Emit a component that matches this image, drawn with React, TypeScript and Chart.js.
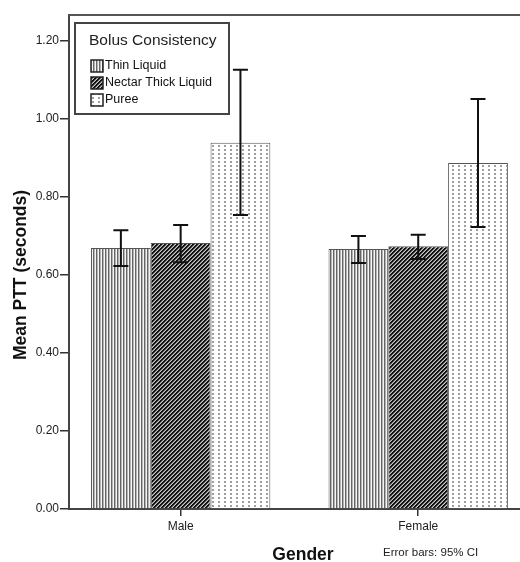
import React, { useEffect, useRef } from 'react';
import { Chart, registerables } from 'chart.js';

Chart.register(...registerables);

// ---------- data ----------
const categories = ['Male', 'Female'];
const seriesNames = ['Thin Liquid', 'Nectar Thick Liquid', 'Puree'];
const thinMeans = [0.669, 0.667];
const nectarMeans = [0.682, 0.674];
const pureeMeans = [0.939, 0.887];
const thinLow = [0.623, 0.631];
const thinHigh = [0.715, 0.700];
const nectarLow = [0.633, 0.641];
const nectarHigh = [0.728, 0.703];
const pureeLow = [0.754, 0.723];
const pureeHigh = [1.126, 1.051];
const yTicks = [0, 0.2, 0.4, 0.6, 0.8, 1.0, 1.2];
const yTitle = 'Mean PTT (seconds)';
const xTitle = 'Gender';
const legendTitle = 'Bolus Consistency';
const footNote = 'Error bars: 95% CI';

const FONT = "'Liberation Sans', Arial, sans-serif";

function makePattern(w: number, h: number, draw: (g: CanvasRenderingContext2D) => void): CanvasPattern {
  const c = document.createElement('canvas');
  c.width = w;
  c.height = h;
  const g = c.getContext('2d') as CanvasRenderingContext2D;
  draw(g);
  return g.createPattern(c, 'repeat') as CanvasPattern;
}

function buildPatterns() {
  const thin = makePattern(3, 1, (g) => {
    const cols = ['#666666', '#b4b4b4', '#f6f6f6'];
    cols.forEach((c, i) => { g.fillStyle = c; g.fillRect(i, 0, 1, 1); });
  });
  const nectar = makePattern(4, 4, (g) => {
    for (let x = 0; x < 4; x++) {
      for (let y = 0; y < 4; y++) {
        const k = (x + y) % 4;
        g.fillStyle = k === 0 || k === 1 ? '#111111' : k === 2 ? '#777777' : '#c8c8c8';
        g.fillRect(x, y, 1, 1);
      }
    }
  });
  const puree = makePattern(6, 4, (g) => {
    g.fillStyle = '#ffffff';
    g.fillRect(0, 0, 6, 4);
    g.fillStyle = '#9e9e9e';
    g.fillRect(2, 1, 2, 2);
  });
  return [thin, nectar, puree];
}

export default function App() {
  const ref = useRef<HTMLCanvasElement | null>(null);

  useEffect(() => {
    const canvas = ref.current;
    if (!canvas) return;
    const patterns = buildPatterns();
    const means = [thinMeans, nectarMeans, pureeMeans];
    const lows = [thinLow, nectarLow, pureeLow];
    const highs = [thinHigh, nectarHigh, pureeHigh];

    const errorBars = {
      id: 'errorBars',
      afterDatasetsDraw(chart: any) {
        const ctx = chart.ctx;
        const y = chart.scales.y;
        chart.data.datasets.forEach((_ds: any, i: number) => {
          const meta = chart.getDatasetMeta(i);
          meta.data.forEach((bar: any, j: number) => {
            const lo = y.getPixelForValue(lows[i][j]);
            const hi = y.getPixelForValue(highs[i][j]);
            const x = bar.x;
            ctx.save();
            ctx.strokeStyle = '#111';
            ctx.lineWidth = 2;
            ctx.beginPath();
            ctx.moveTo(x, hi);
            ctx.lineTo(x, lo);
            ctx.moveTo(x - 7.5, hi);
            ctx.lineTo(x + 7.5, hi);
            ctx.moveTo(x - 7.5, lo);
            ctx.lineTo(x + 7.5, lo);
            ctx.stroke();
            ctx.restore();
          });
        });
      },
    };

    const decorations = {
      id: 'decorations',
      afterDraw(chart: any) {
        const ctx = chart.ctx;
        const a = chart.chartArea;
        ctx.save();
        // frame top/right
        ctx.strokeStyle = '#555';
        ctx.lineWidth = 2;
        ctx.beginPath();
        ctx.moveTo(a.left, a.top);
        ctx.lineTo(a.right, a.top);
        ctx.lineTo(a.right, a.bottom);
        ctx.stroke();

        // legend box
        const lx = 75, ly = 23, lw = 154, lh = 91;
        ctx.fillStyle = '#fff';
        ctx.fillRect(lx, ly, lw, lh);
        ctx.strokeStyle = '#444';
        ctx.lineWidth = 2;
        ctx.strokeRect(lx, ly, lw, lh);
        ctx.fillStyle = '#222';
        ctx.textBaseline = 'middle';
        ctx.textAlign = 'left';
        ctx.font = `15.5px ${FONT}`;
        ctx.fillText(legendTitle, 89, 41);
        ctx.font = `12.5px ${FONT}`;
        seriesNames.forEach((name, i) => {
          const cy = 66 + i * 17;
          ctx.fillStyle = patterns[i];
          ctx.fillRect(91, cy - 6, 12, 12);
          ctx.strokeStyle = '#222';
          ctx.lineWidth = 1.5;
          ctx.strokeRect(91, cy - 6, 12, 12);
          ctx.fillStyle = '#111';
          ctx.fillText(name, 105, cy);
        });

        // y title
        ctx.save();
        ctx.translate(21, 275);
        ctx.rotate(-Math.PI / 2);
        ctx.textAlign = 'center';
        ctx.textBaseline = 'middle';
        ctx.font = `bold 17.5px ${FONT}`;
        ctx.fillStyle = '#111';
        ctx.fillText(yTitle, 0, 0);
        ctx.restore();

        // foot note
        ctx.font = `11.5px ${FONT}`;
        ctx.fillStyle = '#222';
        ctx.textAlign = 'left';
        ctx.textBaseline = 'middle';
        ctx.fillText(footNote, 383, 552.5);
        ctx.restore();
      },
    };

    const chart = new Chart(canvas, {
      type: 'bar',
      data: {
        datasets: seriesNames.map((name, i) => ({
          label: name,
          data: categories.map((_c, j) => ({ x: j + 1, y: means[i][j] })),
          backgroundColor: patterns[i],
          borderColor: '#555',
          borderWidth: 1,
          categoryPercentage: 0.755,
          barPercentage: 1,
        })),
      },
      options: {
        responsive: false,
        animation: false,
        devicePixelRatio: 1,
        layout: { padding: { left: 0, right: 8, top: 15, bottom: 0 } },
        plugins: {
          legend: { display: false },
          tooltip: { enabled: false },
        },
        scales: {
          x: {
            type: 'linear',
            min: 0.53,
            max: 2.5,
            offset: false,
            afterBuildTicks: (s: any) => {
              s.ticks = categories.map((_c, j) => ({ value: j + 1 }));
            },
            afterFit: (s: any) => { s.height = 53; },
            ticks: {
              callback: (v: any) => categories[Math.round(Number(v)) - 1] ?? '',
              font: { family: FONT, size: 12 },
              color: '#222',
              padding: 3,
              maxRotation: 0,
              autoSkip: false,
            },
            grid: {
              display: true,
              drawOnChartArea: false,
              drawTicks: true,
              tickLength: 7,
              color: '#333',
              lineWidth: 1.5,
              offset: false,
            },
            border: { display: true, color: '#444', width: 2 },
            title: {
              display: true,
              text: xTitle,
              font: { family: FONT, size: 17.5, weight: 'bold' },
              color: '#111',
              padding: { top: 0, bottom: -4 },
            },
          },
          y: {
            type: 'linear',
            min: 0,
            max: 1.2667,
            afterBuildTicks: (s: any) => {
              s.ticks = yTicks.map((v) => ({ value: v }));
            },
            afterFit: (s: any) => { s.width = 69; },
            ticks: {
              callback: (v: any) => Number(v).toFixed(2),
              font: { family: FONT, size: 12 },
              color: '#222',
              padding: 1,
            },
            grid: {
              display: true,
              drawOnChartArea: false,
              drawTicks: true,
              tickLength: 9,
              color: '#333',
              lineWidth: 1.5,
            },
            border: { display: true, color: '#444', width: 2 },
          },
        },
      },
      plugins: [errorBars, decorations],
    } as any);

    return () => chart.destroy();
  }, []);

  return (
    <div
      style={{
        position: 'fixed',
        left: 0,
        top: 0,
        width: 520,
        height: 562,
        overflow: 'hidden',
        background: '#fff',
      }}
    >
      <canvas ref={ref} width={545} height={562} style={{ display: 'block' }} />
    </div>
  );
}
